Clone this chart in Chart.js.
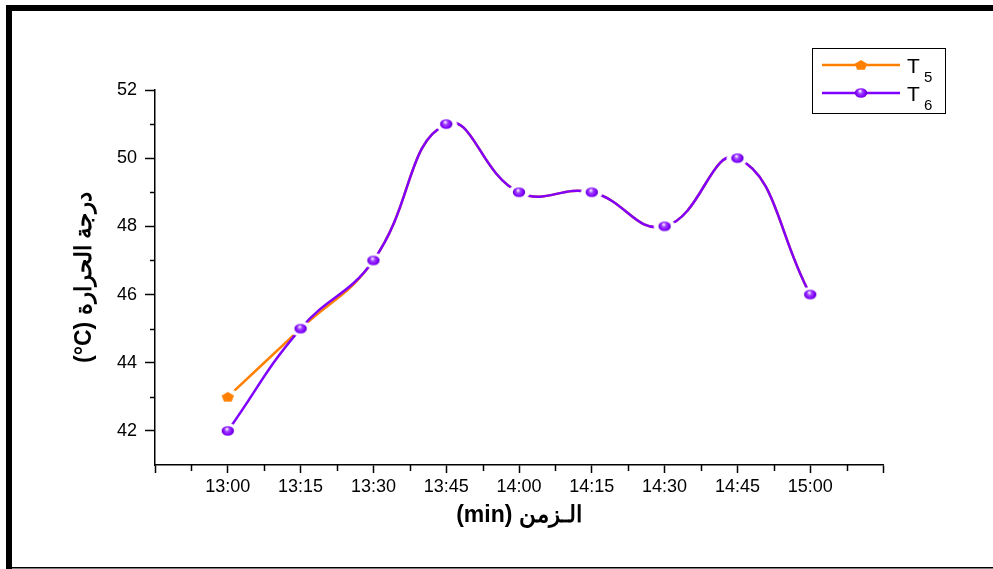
<!DOCTYPE html>
<html>
<head>
<meta charset="utf-8">
<script src="https://cdn.jsdelivr.net/npm/chart.js@4/dist/chart.umd.min.js"></script>
<style>
  html, body { margin: 0; padding: 0; background: #fff; }
  #wrap { position: relative; width: 993px; height: 569px; }
  canvas { display: block; }
</style>
</head>
<body>
<div id="wrap"><canvas id="c" width="993" height="569"></canvas></div>
<script>
// ---- data ----
const times = ['13:00', '13:15', '13:30', '13:45', '14:00', '14:15', '14:30', '14:45', '15:00'];
const seriesT5 = [43, 45, 47, 51, 49, 49, 48, 50, 46];
const seriesT6 = [42, 45, 47, 51, 49, 49, 48, 50, 46];
const yMajorTicks = [42, 44, 46, 48, 50, 52];
const yMinorTicks = [43, 45, 47, 49, 51];
const xMinorTicks = [-0.5, 0.5, 1.5, 2.5, 3.5, 4.5, 5.5, 6.5, 7.5, 8.5];
const xTitle = '(min) الـزمن';
const yTitle = '(°C) درجة الحرارة';

const ORANGE = '#FF8000';
const PURPLE = '#7F00FF';

// ---- marker images ----
function sphere(halo) {
  const w = halo ? 24 : 14, h = halo ? 16 : 12;
  const c = document.createElement('canvas');
  c.width = w; c.height = h;
  const g = c.getContext('2d');
  const cx = w / 2, cy = h / 2;
  if (halo) {
    g.fillStyle = '#fff';
    g.beginPath(); g.ellipse(cx, cy, 11, 7.5, 0, 0, Math.PI * 2); g.fill();
  }
  const grad = g.createRadialGradient(cx - 1, cy - 2, 0.5, cx, cy, 6.5);
  grad.addColorStop(0, '#F4E6FF');
  grad.addColorStop(0.3, '#A040FF');
  grad.addColorStop(0.7, '#7F00FF');
  grad.addColorStop(1, '#5200B0');
  g.fillStyle = grad;
  g.beginPath(); g.ellipse(cx, cy, 6.2, 4.8, 0, 0, Math.PI * 2); g.fill();
  return c;
}
function pentagon(halo) {
  const w = halo ? 24 : 16, h = halo ? 18 : 14;
  const c = document.createElement('canvas');
  c.width = w; c.height = h;
  const g = c.getContext('2d');
  const cx = w / 2, cy = h / 2 + 0.5;
  if (halo) {
    g.fillStyle = '#fff';
    g.beginPath(); g.ellipse(cx, cy - 0.5, 11, 8, 0, 0, Math.PI * 2); g.fill();
  }
  g.fillStyle = ORANGE;
  g.beginPath();
  for (let i = 0; i < 5; i++) {
    const a = -Math.PI / 2 + i * 2 * Math.PI / 5;
    const px = cx + 6.5 * Math.cos(a), py = cy + 5.4 * Math.sin(a);
    if (i === 0) g.moveTo(px, py); else g.lineTo(px, py);
  }
  g.closePath(); g.fill();
  return c;
}
const sphereHalo = sphere(true), sphereLegend = sphere(false);
const pentHalo = pentagon(true), pentLegend = pentagon(false);

// ---- plugins ----
const framePlugin = {
  id: 'frame',
  afterDraw(chart) {
    const ctx = chart.ctx;
    ctx.save();
    ctx.fillStyle = '#000';
    ctx.fillRect(6, 5, 987, 6);     // top bar
    ctx.fillRect(6, 5, 6, 564);     // left bar
    ctx.fillRect(6, 567, 987, 1.5); // bottom line
    ctx.restore();
  }
};

const minorTicksPlugin = {
  id: 'minorTicks',
  afterDraw(chart) {
    const ctx = chart.ctx, xs = chart.scales.x, ys = chart.scales.y;
    ctx.save();
    ctx.strokeStyle = '#000';
    ctx.lineWidth = 1.5;
    ctx.beginPath();
    yMinorTicks.forEach(v => {
      const py = Math.round(ys.getPixelForValue(v)) + 0.5;
      ctx.moveTo(xs.left - 5, py); ctx.lineTo(xs.left, py);
    });
    xMinorTicks.forEach(v => {
      const px = Math.round(xs.getPixelForValue(v)) + 0.5;
      ctx.moveTo(px, ys.bottom); ctx.lineTo(px, ys.bottom + 6);
    });
    ctx.stroke();
    ctx.restore();
  }
};

const legendPlugin = {
  id: 'customLegend',
  afterDraw(chart) {
    const ctx = chart.ctx;
    ctx.save();
    ctx.strokeStyle = '#000';
    ctx.lineWidth = 1;
    ctx.strokeRect(812.5, 48.5, 133, 65);
    const rows = [
      { y: 65, color: ORANGE, img: pentLegend, sub: '5' },
      { y: 93, color: PURPLE, img: sphereLegend, sub: '6' }
    ];
    rows.forEach(r => {
      ctx.strokeStyle = r.color;
      ctx.lineWidth = 2.5;
      ctx.beginPath(); ctx.moveTo(822, r.y); ctx.lineTo(900, r.y); ctx.stroke();
      ctx.drawImage(r.img, 861 - r.img.width / 2, r.y - r.img.height / 2);
      ctx.fillStyle = '#000';
      ctx.textBaseline = 'alphabetic';
      ctx.textAlign = 'left';
      ctx.font = '21px "Liberation Sans", Arial, sans-serif';
      ctx.fillText('T', 907, r.y + 8);
      ctx.font = '15px "Liberation Sans", Arial, sans-serif';
      ctx.fillText(r.sub, 924, r.y + 17);
    });
    ctx.restore();
  }
};

// ---- chart ----
const toPts = arr => arr.map((v, i) => ({ x: i, y: v }));

new Chart(document.getElementById('c'), {
  type: 'line',
  data: {
    datasets: [
      {
        label: 'T5',
        data: toPts(seriesT5),
        borderColor: ORANGE,
        borderWidth: 2.5,
        pointStyle: pentHalo,
        tension: 0.45,
        order: 1
      },
      {
        label: 'T6',
        data: toPts(seriesT6),
        borderColor: PURPLE,
        borderWidth: 2.5,
        pointStyle: sphereHalo,
        tension: 0.45,
        order: 0
      }
    ]
  },
  options: {
    responsive: false,
    animation: false,
    devicePixelRatio: 1,
    layout: { padding: { left: 0, top: 90, right: 110, bottom: 0 } },
    plugins: {
      legend: { display: false },
      tooltip: { enabled: false }
    },
    elements: { point: { radius: 6, hoverRadius: 6 } },
    scales: {
      x: {
        type: 'linear',
        min: -1,
        max: 9,
        afterBuildTicks(scale) {
          const t = [];
          for (let i = -1; i <= 9; i++) t.push({ value: i });
          scale.ticks = t;
        },
        afterFit(scale) { scale.height = 104; },
        ticks: {
          autoSkip: false,
          maxRotation: 0,
          padding: 3,
          color: '#000',
          font: { family: '"Liberation Sans", Arial, sans-serif', size: 18 },
          callback: v => (times[v] !== undefined ? times[v] : '')
        },
        grid: {
          display: true,
          drawOnChartArea: false,
          drawTicks: true,
          tickLength: 8,
          tickColor: '#000',
          tickWidth: 1.5
        },
        border: { display: true, color: '#000', width: 1.5 },
        title: {
          display: true,
          text: xTitle,
          color: '#000',
          font: { family: '"Liberation Sans", Arial, sans-serif', size: 23, weight: 'bold' },
          padding: { top: 0, bottom: 40 }
        }
      },
      y: {
        type: 'linear',
        min: 41,
        max: 52,
        afterBuildTicks(scale) { scale.ticks = yMajorTicks.map(v => ({ value: v })); },
        afterFit(scale) { scale.width = 155; },
        ticks: {
          padding: 8,
          color: '#000',
          font: { family: '"Liberation Sans", Arial, sans-serif', size: 18 }
        },
        grid: {
          display: true,
          drawOnChartArea: false,
          drawTicks: true,
          tickLength: 10,
          tickColor: '#000',
          tickWidth: 1.5
        },
        border: { display: true, color: '#000', width: 1.5 },
        title: {
          display: true,
          text: yTitle,
          color: '#000',
          font: { family: '"Liberation Sans", Arial, sans-serif', size: 23, weight: 'bold' },
          padding: { top: 71, bottom: 0 }
        }
      }
    }
  },
  plugins: [framePlugin, minorTicksPlugin, legendPlugin]
});
</script>
</body>
</html>
